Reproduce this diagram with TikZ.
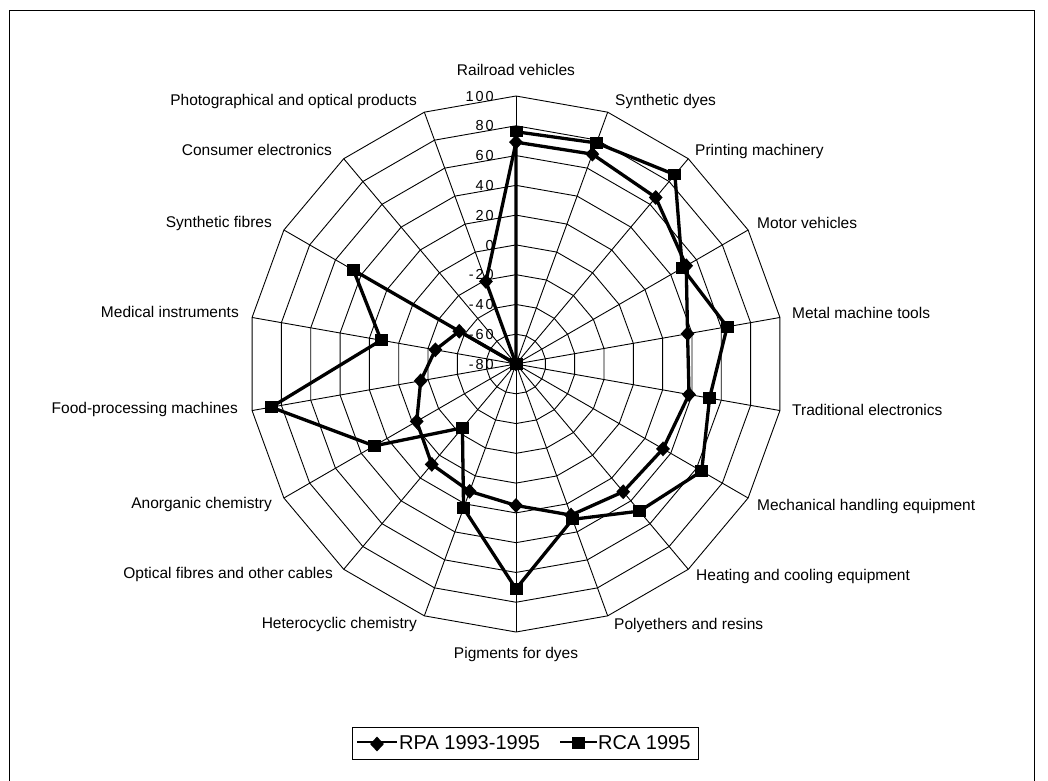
\documentclass[tikz,border=0pt]{standalone}
\usepackage{fontspec}
\setmainfont{Liberation Sans}
\usetikzlibrary{shapes.geometric}
\begin{document}
\begin{tikzpicture}[x=1pt,y=1pt,
  gridline/.style={line width=0.9pt},
  serie/.style={line width=3.3pt, line join=round},
  rpamark/.style={diamond, fill=black, inner sep=0pt, minimum width=14pt, minimum height=15pt},
  rcamark/.style={rectangle, fill=black, inner sep=0pt, minimum width=13pt, minimum height=11.5pt},
  lab/.style={font=\fontsize{15.5}{18}\selectfont, inner sep=0pt},
  tick/.style={font=\fontsize{14.5}{17}\selectfont, inner sep=0pt, anchor=base east},
  leg/.style={font=\fontsize{20}{24}\selectfont, inner sep=0pt, anchor=base west}]
\useasboundingbox (0,0) rectangle (1048,-780);
\fill[white] (0,0) rectangle (1048,-780);
\draw[line width=1pt] (9,-781) -- (9,-10) -- (1034,-10) -- (1034,-781);

\begin{scope}[shift={(516,-364)}]
  % grid rings
  \foreach \i in {1,...,9}
    \draw[gridline] (90:{\i*29.7778}) \foreach \k in {1,...,17}{ -- ({90-20*\k}:{\i*29.7778})} -- cycle;
  % spokes
  \foreach \k in {0,...,17}
    \draw[gridline] (0,0) -- ({90-20*\k}:268);
  % tick labels
  \node[tick] (t0) at (-22,{0*29.7778-5.2}) {-\kern2pt8\kern2pt0};
  \node[tick] (t1) at (-22,{1*29.7778-5.2}) {-\kern2pt6\kern2pt0};
  \node[tick] (t2) at (-22,{2*29.7778-5.2}) {-\kern2pt4\kern2pt0};
  \node[tick] (t3) at (-22,{3*29.7778-5.2}) {-\kern2pt2\kern2pt0};
  \node[tick] (t4) at (-22,{4*29.7778-5.2}) {0};
  \node[tick] (t5) at (-22,{5*29.7778-5.2}) {2\kern2pt0};
  \node[tick] (t6) at (-22,{6*29.7778-5.2}) {4\kern2pt0};
  \node[tick] (t7) at (-22,{7*29.7778-5.2}) {6\kern2pt0};
  \node[tick] (t8) at (-22,{8*29.7778-5.2}) {8\kern2pt0};
  \node[tick] (t9) at (-22,{9*29.7778-5.2}) {1\kern2pt0\kern2pt0};
  % RPA series
  \foreach \k/\v in {0/69,1/70,2/66,3/52,4/37,5/38,6/34,7/32,8/28,9/15,10/11,11/8,12/-3,13/-15,14/-25,15/-36,16/-80,17/-21}
    \node[rpamark] (a\k) at ({90-20*\k}:{(\v+80)*1.48889}) {};
  \draw[serie] (a0.center) \foreach \k in {1,...,17}{ -- (a\k.center)} -- cycle;
  % RCA series
  \foreach \k/\v in {0/76,1/78,2/86,3/49,4/64,5/52,6/64,7/49,8/31,9/71,10/23,11/-24,12/30,13/87,14/12,15/46,16/-80,17/-80}
    \node[rcamark] (b\k) at ({90-20*\k}:{(\v+80)*1.48889}) {};
  \draw[serie] (b0.center) \foreach \k in {1,...,17}{ -- (b\k.center)} -- cycle;
\end{scope}

% category labels
\node[lab, anchor=base]      (l0)  at (516,-75.5)  {Railroad vehicles};
\node[lab, anchor=base west] (l1)  at (615,-105.5) {Synthetic dyes};
\node[lab, anchor=base west] (l2)  at (695,-155.5) {Printing machinery};
\node[lab, anchor=base west] (l3)  at (757,-228.5) {Motor vehicles};
\node[lab, anchor=base west] (l4)  at (792,-318.5) {Metal machine tools};
\node[lab, anchor=base west] (l5)  at (792,-415.5) {Traditional electronics};
\node[lab, anchor=base west] (l6)  at (757,-510.5) {Mechanical handling equipment};
\node[lab, anchor=base west] (l7)  at (696,-580.5) {Heating and cooling equipment};
\node[lab, anchor=base west] (l8)  at (614,-629.5) {Polyethers and resins};
\node[lab, anchor=base]      (l9)  at (516,-658.5) {Pigments for dyes};
\node[lab, anchor=base east] (l10) at (417,-628.5) {Heterocyclic chemistry};
\node[lab, anchor=base east] (l11) at (333,-578.5) {Optical fibres and other cables};
\node[lab, anchor=base east] (l12) at (272,-508.5) {Anorganic chemistry};
\node[lab, anchor=base east] (l13) at (238,-413.5) {Food-processing machines};
\node[lab, anchor=base east] (l14) at (239,-317.5) {Medical instruments};
\node[lab, anchor=base east] (l15) at (272,-227.5) {Synthetic fibres};
\node[lab, anchor=base east] (l16) at (332,-155.5) {Consumer electronics};
\node[lab, anchor=base east] (l17) at (417,-105.5) {Photographical and optical products};

% legend
\draw[line width=0.8pt] (352,-727) rectangle (698,-759);
\coordinate (la1) at (357,-742); \coordinate (la2) at (397,-742);
\coordinate (lb1) at (560,-742); \coordinate (lb2) at (597,-742);
\draw[line width=2.5pt] (la1) -- (la2);
\draw[line width=2.5pt] (lb1) -- (lb2);
\node[rpamark] (lam) at (377,-744) {};
\node[rcamark] (lbm) at (578,-743) {};
\node[leg] (lat) at (399,-749.5) {RPA 1993-1995};
\node[leg] (lbt) at (598,-749.5) {RCA 1995};
\end{tikzpicture}
\end{document}
